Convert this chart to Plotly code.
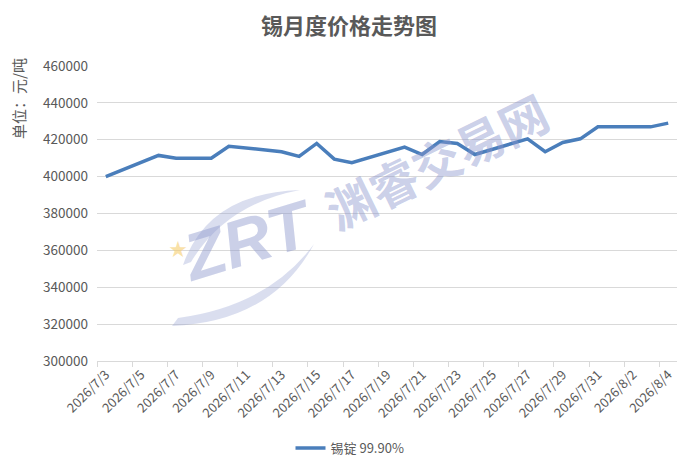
import plotly.graph_objects as go

# 锡锭 99.90% 日价格（元/吨），周末无数据
dates = [
    "2026-07-03", "2026-07-06", "2026-07-07", "2026-07-08", "2026-07-09",
    "2026-07-10", "2026-07-13", "2026-07-14", "2026-07-15", "2026-07-16",
    "2026-07-17", "2026-07-20", "2026-07-21", "2026-07-22", "2026-07-23",
    "2026-07-24", "2026-07-27", "2026-07-28", "2026-07-29", "2026-07-30",
    "2026-07-31", "2026-08-03", "2026-08-04",
]
prices = [
    400000, 411500, 410000, 410000, 410000,
    416500, 413500, 411000, 418000, 409500,
    407500, 416000, 412000, 419000, 418000,
    412000, 420500, 413500, 418500, 420500,
    427000, 427000, 429000,
]
series_name = "锡锭 99.90%"
title_text = "锡月度价格走势图"
unit_text = "单位：元/吨"

GREY = "#595959"
GRID = "#d9d9d9"
FONT = "Noto Sans CJK SC"

# body keeps its default 8px margin: 681 + 16 = 697, 454 + 16 = 470
PAD = 8
W, H = 681, 454
L, T, R, B = 89, 58, 12, 101
PW, PH = W - L - R, H - T - B


def px(x, y):
    """window pixel -> paper coords of the plot area"""
    return (x - PAD - L) / PW, (H - B - (y - PAD)) / PH


fig = go.Figure(
    go.Scatter(
        x=dates,
        y=prices,
        mode="lines",
        name=series_name,
        line=dict(color="#4A7EBB", width=3.5),
    )
)

fig.update_layout(
    width=W,
    height=H,
    margin=dict(l=L, r=R, t=T, b=B, autoexpand=False),
    paper_bgcolor="white",
    plot_bgcolor="white",
    font=dict(family=FONT, color=GREY, size=13),
    title=dict(
        text=f"<b>{title_text}</b>",
        x=(349 - PAD) / W,
        xanchor="center",
        y=1 - (26 - PAD) / H,
        yanchor="middle",
        font=dict(family=FONT, size=22, color=GREY),
    ),
    showlegend=True,
    legend=dict(
        orientation="h",
        x=px(350, 0)[0],
        xanchor="center",
        y=px(0, 448)[1],
        yanchor="middle",
        font=dict(size=13, color=GREY),
    ),
)

fig.update_xaxes(
    type="date",
    range=["2026-07-02 12:00", "2026-08-04 12:00"],
    tickmode="linear",
    tick0="2026-07-03",
    dtick=2 * 86400000,
    tickformat="%Y/%-m/%-d",
    tickangle=-45,
    tickfont=dict(size=13, color=GREY),
    ticks="",
    showgrid=False,
    showline=True,
    linecolor=GRID,
    linewidth=1,
    minor=dict(
        tick0="2026-07-02 12:00",
        dtick=2 * 86400000,
        ticks="outside",
        ticklen=5,
        tickcolor=GRID,
        showgrid=False,
    ),
)

fig.update_yaxes(
    range=[300000, 460000],
    dtick=20000,
    tickformat="d",
    showgrid=True,
    gridcolor=GRID,
    gridwidth=1,
    zeroline=False,
    showline=False,
    ticks="",
    ticklabelstandoff=8,
    tickfont=dict(size=13.5, color=GREY),
)

# 纵轴单位
ux, uy = px(18, 99)
fig.add_annotation(
    text=unit_text,
    xref="paper", yref="paper",
    x=ux, y=uy,
    xanchor="center", yanchor="middle",
    textangle=-90,
    showarrow=False,
    font=dict(family=FONT, size=15, color=GREY),
)

# 水印
WM = "rgba(140,150,205,0.45)"
WM_ARC = "rgba(150,160,210,0.35)"


def path(points):
    pts = [px(*p) for p in points]
    (a, b, c, d, e) = pts
    return (f"M {a[0]},{a[1]} Q {b[0]},{b[1]} {c[0]},{c[1]} "
            f"Q {d[0]},{d[1]} {e[0]},{e[1]} Z")


fig.add_shape(
    type="path", xref="paper", yref="paper",
    path=path([(183, 265), (208, 193), (300, 190), (226, 204), (191, 262)]),
    fillcolor=WM_ARC, line=dict(width=0),
)
fig.add_shape(
    type="path", xref="paper", yref="paper",
    path=path([(172, 326), (272, 322), (314, 244), (268, 306), (178, 318)]),
    fillcolor=WM_ARC, line=dict(width=0),
)

zx, zy = px(248, 240)
fig.add_annotation(
    text="<b><i>ZRT</i></b>",
    xref="paper", yref="paper",
    x=zx, y=zy,
    xanchor="center", yanchor="middle",
    textangle=-17,
    showarrow=False,
    font=dict(family="Liberation Sans", size=66, color=WM),
)
sx, sy = px(178, 248)
fig.add_annotation(
    text="★",
    xref="paper", yref="paper",
    x=sx, y=sy,
    xanchor="center", yanchor="middle",
    showarrow=False,
    font=dict(size=18, color="rgba(245,205,110,0.6)"),
)
cx, cy = px(436, 160)
fig.add_annotation(
    text="<b>渊睿交易网</b>",
    xref="paper", yref="paper",
    x=cx, y=cy,
    xanchor="center", yanchor="middle",
    textangle=-26,
    showarrow=False,
    font=dict(family=FONT, size=48, color=WM),
)

fig.write_html("out.html", config={"displayModeBar": False})
